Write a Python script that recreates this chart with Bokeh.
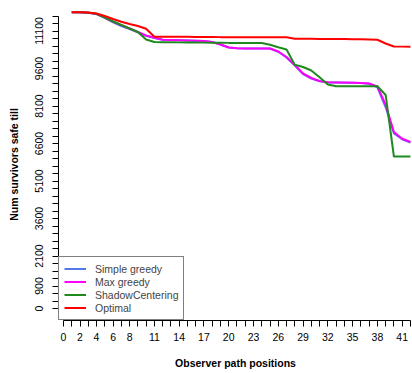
from bokeh.plotting import figure
from bokeh.models import FixedTicker, Range1d, Legend, LegendItem
from bokeh.embed import file_html
from bokeh.resources import INLINE

positions = list(range(1, 43))

simple_greedy = [11850, 11850, 11830, 11780, 11630, 11450, 11300, 11180, 11050, 10910,
                 10820, 10750, 10740, 10730, 10720, 10710, 10700, 10660, 10560, 10440,
                 10410, 10400, 10400, 10400, 10400, 10270, 10040, 9720, 9380, 9200,
                 9090, 9040, 9040, 9030, 9030, 9020, 8990, 8850, 8050, 7000,
                 6770, 6640]
max_greedy = [11850, 11850, 11830, 11780, 11640, 11480, 11330, 11200, 11060, 10920,
              10830, 10750, 10740, 10730, 10720, 10710, 10700, 10660, 10560, 10440,
              10410, 10400, 10400, 10400, 10400, 10280, 10060, 9740, 9400, 9220,
              9100, 9050, 9040, 9040, 9030, 9020, 9000, 8880, 8150, 7060,
              6790, 6660]
shadow_centering = [11850, 11850, 11830, 11790, 11640, 11480, 11340, 11200, 11060, 10760,
                    10660, 10650, 10650, 10645, 10640, 10640, 10635, 10630, 10630, 10625,
                    10625, 10620, 10620, 10620, 10550, 10450, 10360, 9750, 9660, 9520,
                    9250, 8960, 8890, 8890, 8890, 8890, 8890, 8890, 8540, 6080,
                    6080, 6080]
optimal = [11850, 11850, 11840, 11800, 11700, 11580, 11470, 11380, 11300, 11190,
           10870, 10870, 10870, 10868, 10866, 10864, 10862, 10860, 10855, 10855,
           10853, 10852, 10852, 10851, 10850, 10850, 10850, 10790, 10788, 10786,
           10784, 10782, 10780, 10776, 10772, 10766, 10760, 10750, 10600, 10480,
           10475, 10470]

series_names = ["Simple greedy", "Max greedy", "ShadowCentering", "Optimal"]
series_colors = ["#5379E6", "#FF00FF", "#1F8B1F", "#FF0000"]

x_ticks = list(range(0, 43))
x_labels_shown = [0, 2, 4, 6, 8, 11, 14, 17, 20, 23, 26, 29, 32, 35, 38, 41]
y_ticks = list(range(0, 11701, 300))
y_labels_shown = [0, 900, 2100, 3600, 5100, 6600, 8100, 9600, 11100]

FONT = "Liberation Sans"

p = figure(width=412, height=373, output_backend="svg", toolbar_location=None,
           x_range=Range1d(-0.605, 42.25), y_range=Range1d(-480, 12000),
           min_border_left=58, min_border_right=0, min_border_top=8, min_border_bottom=53)
p.outline_line_color = None
p.grid.visible = False
p.background_fill_color = "white"

items = []
for data, name, col in zip([simple_greedy, max_greedy, shadow_centering, optimal],
                           series_names, series_colors):
    r = p.line(positions, data, line_color=col, line_width=2)
    items.append(LegendItem(label=name, renderers=[r]))

legend = Legend(items=items, location="bottom_left", margin=0, padding=5, spacing=0,
                label_height=13, glyph_height=13, glyph_width=22, label_standoff=9,
                border_line_color="black", border_line_width=1,
                background_fill_color="white", background_fill_alpha=1.0,
                label_text_font=FONT, label_text_font_size="10.5px")
p.add_layout(legend)

xa = p.xaxis[0]
xa.ticker = FixedTicker(ticks=x_ticks)
xa.major_label_overrides = {t: (str(t) if t in x_labels_shown else "") for t in x_ticks}
xa.bounds = (0, 42)
ya = p.yaxis[0]
ya.ticker = FixedTicker(ticks=y_ticks)
ya.major_label_overrides = {t: (str(t) if t in y_labels_shown else "") for t in y_ticks}
ya.bounds = (0, 11700)
ya.major_label_orientation = "vertical"

for ax in (xa, ya):
    ax.minor_tick_line_color = None
    ax.major_tick_in = 0
    ax.major_tick_out = 6
    ax.axis_line_color = "black"
    ax.major_tick_line_color = "black"
    ax.major_label_text_font = FONT
    ax.major_label_text_font_size = "10.5px"
    ax.major_label_text_color = "black"
    ax.axis_label_text_font = FONT
    ax.axis_label_text_font_size = "10.5px"
    ax.axis_label_text_font_style = "bold"
    ax.axis_label_text_color = "black"

xa.axis_label = "Observer path positions"
xa.major_label_standoff = 6
xa.axis_label_standoff = 13
ya.axis_label = "Num survivors safe till"
ya.major_label_standoff = 10
ya.axis_label_standoff = 12

open("out.html", "w").write(file_html(p, INLINE))
